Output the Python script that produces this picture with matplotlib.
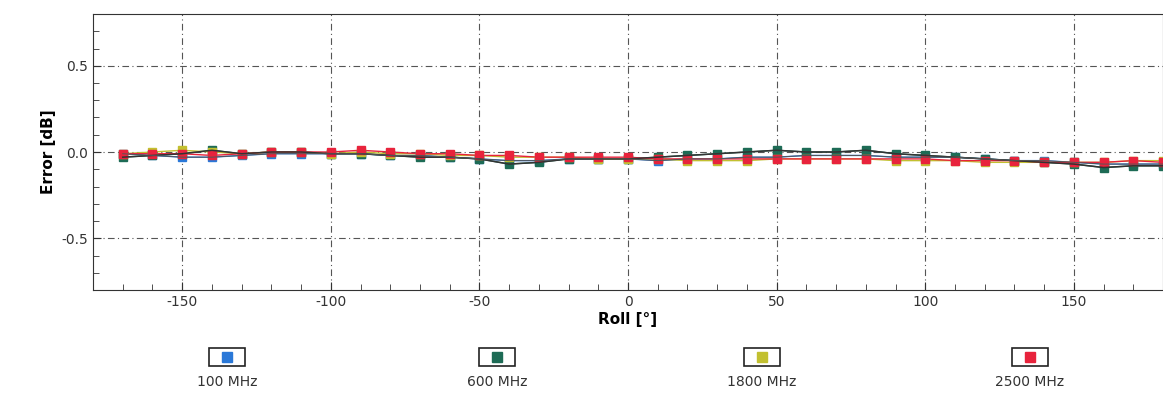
import matplotlib.pyplot as plt
from matplotlib.lines import Line2D
from matplotlib.patches import Rectangle
from matplotlib.ticker import MultipleLocator

plt.rcParams['axes.unicode_minus'] = False

# Roll angles [deg]
roll = [-170, -160, -150, -140, -130, -120, -110, -100, -90, -80, -70, -60,
        -50, -40, -30, -20, -10, 0, 10, 20, 30, 40, 50, 60,
        70, 80, 90, 100, 110, 120, 130, 140, 150, 160, 170, 180]

# error [dB] per frequency
err_100 = [-0.01, -0.02, -0.03, -0.03, -0.02, -0.01, -0.01, -0.01, -0.01, -0.02, -0.02, -0.03,
           -0.04, -0.05, -0.05, -0.04, -0.04, -0.04, -0.05, -0.04, -0.04, -0.03, -0.03, -0.02,
           -0.02, -0.02, -0.03, -0.03, -0.03, -0.04, -0.05, -0.05, -0.06, -0.07, -0.07, -0.07]
err_600 = [-0.03, -0.02, -0.01, 0.01, -0.01, 0.00, 0.00, -0.01, -0.01, -0.02, -0.03, -0.03,
           -0.04, -0.07, -0.06, -0.04, -0.04, -0.04, -0.03, -0.02, -0.01, 0.00, 0.01, 0.00,
           0.00, 0.01, -0.01, -0.02, -0.03, -0.04, -0.05, -0.06, -0.07, -0.09, -0.08, -0.08]
err_1800 = [-0.01, 0.00, 0.01, 0.00, -0.01, 0.00, 0.00, -0.01, 0.00, -0.01, -0.01, -0.02,
            -0.02, -0.03, -0.03, -0.03, -0.04, -0.04, -0.04, -0.05, -0.05, -0.05, -0.04, -0.04,
            -0.04, -0.04, -0.05, -0.05, -0.05, -0.06, -0.06, -0.06, -0.06, -0.06, -0.05, -0.05]
err_2500 = [-0.01, -0.01, -0.01, -0.02, -0.01, 0.00, 0.00, 0.00, 0.01, 0.00, -0.01, -0.01,
            -0.02, -0.02, -0.03, -0.03, -0.03, -0.03, -0.04, -0.04, -0.04, -0.04, -0.04, -0.04,
            -0.04, -0.04, -0.04, -0.04, -0.05, -0.05, -0.05, -0.06, -0.06, -0.06, -0.05, -0.06]

labels = ['100 MHz', '600 MHz', '1800 MHz', '2500 MHz']
colors = ['#2a78d8', '#1d6b55', '#c2c030', '#e8233c']
series = [err_100, err_600, err_1800, err_2500]

fig = plt.figure(figsize=(11.63, 4), dpi=100)
ax = fig.add_axes([0.08, 0.275, 0.92, 0.69])

for ys, c in zip(series, colors):
    ax.plot(roll, ys, '-', color=c, lw=1.0, zorder=3)
    ax.plot(roll, ys, 's', color=c, ms=5.5, mec=c, zorder=4)
# dark trace lines over the markers, like the scan
ax.plot(roll, err_600, '-', color='#333333', lw=1.1, zorder=5)
ax.plot(roll, err_100, '-', color='#555555', lw=0.7, zorder=5)

ax.set_xlim(-180, 180)
ax.set_ylim(-0.8, 0.8)
ax.xaxis.set_major_locator(MultipleLocator(50))
ax.xaxis.set_minor_locator(MultipleLocator(10))
ax.yaxis.set_minor_locator(MultipleLocator(0.1))
ax.set_yticks([-0.5, 0.0, 0.5])
ax.set_yticklabels(['-0.5', '0.0', '0.5'])
ax.tick_params(which='both', direction='in', labelsize=10, colors='#333333')
ax.tick_params(which='major', length=6)
ax.tick_params(which='minor', length=4)
ax.grid(True, which='major', ls=(0, (6, 3, 1, 3)), color='#555555', lw=0.8)
for s in ax.spines.values():
    s.set_color('#333333')

ax.set_xlabel('Roll [°]', fontsize=11, fontweight='bold', labelpad=2)
ax.set_ylabel('Error [dB]', fontsize=11, fontweight='bold')

# legend under the plot: marker box on top, text below
legend_x = [227, 497, 762, 1030]
W, H = 1163.0, 400.0
for x, lab, c in zip(legend_x, labels, colors):
    fig.patches.append(Rectangle(((x - 18) / W, 1 - 366 / H), 36 / W, 18 / H,
                                 transform=fig.transFigure, fill=False,
                                 ec='#222222', lw=1.2))
    fig.lines.append(Line2D([x / W], [1 - 357 / H], transform=fig.transFigure,
                            marker='s', ms=7, color=c, ls='none'))
    fig.text(x / W, 1 - 382 / H, lab, ha='center', va='center', fontsize=10,
             color='#333333')

fig.savefig('out.png', dpi=100)
